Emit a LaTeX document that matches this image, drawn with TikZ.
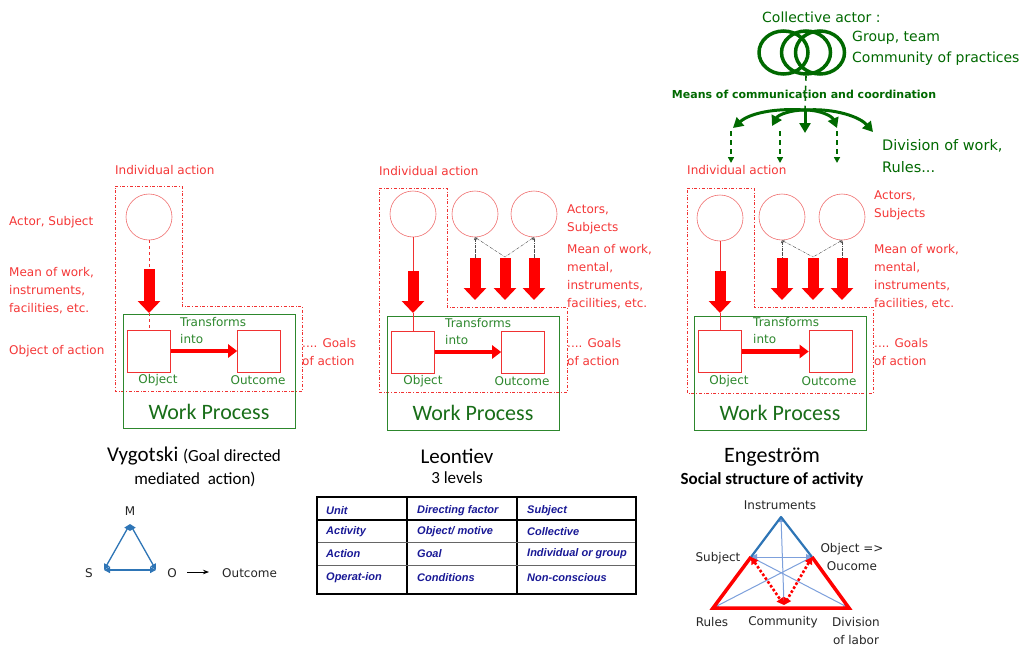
\documentclass[tikz,border=0pt]{standalone}
\usepackage{fontspec}
\setmainfont{DejaVu Sans}
\newfontfamily\titlefont{Carlito}
\newfontfamily\tablefont{Liberation Sans}
\usetikzlibrary{arrows.meta,shapes.geometric}
\definecolor{txtred}{RGB}{245,55,55}
\definecolor{circred}{RGB}{240,110,110}
\definecolor{boxred}{RGB}{240,50,50}
\definecolor{wpgreen}{RGB}{45,135,45}
\definecolor{wptxt}{RGB}{25,110,25}
\definecolor{colgreen}{RGB}{0,105,0}
\definecolor{triblue}{RGB}{46,117,182}
\definecolor{thinblue}{RGB}{125,160,220}
\definecolor{tabblue}{RGB}{25,25,150}
\begin{document}
\begin{tikzpicture}[
        x=1pt, y=-1pt,
        actor/.style={draw=circred, circle, minimum size=46pt, inner sep=0pt, semithick},
        objbox/.style={draw=boxred, minimum width=43pt, minimum height=42pt, inner sep=0pt, semithick},
        wpbox/.style={draw=wpgreen, minimum width=172pt, minimum height=114pt, inner sep=0pt},
        actbox/.style={draw=boxred, dash dot, thin},
        lbl/.style={text=txtred, font=\fontsize{12}{18}\selectfont, align=left, inner sep=0pt, anchor=west},
        grtext/.style={text=wpgreen, font=\fontsize{12}{17}\selectfont, align=left, inner sep=0pt},
        wptext/.style={text=wptxt, font=\titlefont\fontsize{22}{24}\selectfont, inner sep=0pt},
        title/.style={font=\titlefont\fontsize{21}{23}\selectfont, inner sep=0pt},
        subtitle/.style={font=\titlefont\fontsize{17}{19}\selectfont, inner sep=0pt},
        bigarrow/.style={draw=red, line width=11pt, -{Triangle[length=12pt, width=22pt]}},
        transarrow/.style={draw=red, line width=4.5pt, -{Triangle[length=9pt, width=13pt]}},
        sublink/.style={draw=boxred, thin},
        dotlink/.style={draw=black!70, densely dashdotted, thin, {Stealth[length=3pt]}-},
        colcirc/.style={draw=colgreen, ellipse, line width=3.5pt, minimum width=49pt, minimum height=43pt, inner sep=0pt},
        colarrow/.style={draw=colgreen, line width=3pt, -{Triangle[length=10pt, width=11pt]}},
        coldash/.style={draw=colgreen, line width=1.6pt, dash pattern=on 5pt off 4pt, -{Triangle[length=6pt, width=6pt]}},
        coltext/.style={text=colgreen, font=\fontsize{14}{21}\selectfont, align=left, inner sep=0pt, anchor=west},
        small/.style={font=\fontsize{12}{18}\selectfont, inner sep=0pt, text=black!85},
        tabtext/.style={text=tabblue, font=\tablefont\bfseries\itshape\fontsize{11}{13}\selectfont, inner sep=0pt, anchor=west},
        triedge/.style={draw=triblue, line width=1.3pt, {Triangle[length=6pt, width=6pt]}-{Triangle[length=6pt, width=6pt]}},
        thinedge/.style={draw=thinblue, line width=1pt, -{Triangle[length=6pt, width=5pt]}},
    ]
    \useasboundingbox[fill=white] (0,0) rectangle (1027,648);

    % Vygotski
    \node[lbl](vInd) at (115,170){Individual action};
    \draw[actbox] (115,186) -| (182,306) -| (302,391) -| cycle;
    \node[actor](vSubj) at (149,217){};
    \node[wpbox](vWP) at (209,371.5){};
    \node[objbox](vObj) at (149,351){};
    \node[objbox](vOut) at (259,351){};
    \coordinate (vA1) at (149,269);
    \coordinate (vA2) at (149,313);
    \draw[sublink, dashed] (vSubj) -- (vA1);
    \draw[bigarrow] (vA1) -- (vA2);
    \draw[sublink, dashed] (vA2) -- (vObj);
    \draw[transarrow] (vObj) -- (vOut);
    \node[lbl](vActor) at (9,222){Actor, Subject};
    \node[lbl](vMean) at (9,290.5){Mean of work,\\instruments,\\facilities, etc.};
    \node[lbl](vObjAct) at (9,351){Object of action};
    \node[lbl](vGoal) at (302,352){.... Goals\\of action};
    \node[grtext, anchor=west](vTrans) at (180,330.5){Transforms\\into};
    \node[grtext](vObjL) at (158,380){Object};
    \node[grtext](vOutL) at (258,380){Outcome};
    \node[wptext](vWPt) at (209,412){Work Process};

    % Leontiev
    \node[lbl](lInd) at (379,171){Individual action};
    \draw[actbox] (379,188) -| (447,307) -| (567,392) -| cycle;
    \node[actor](lSubj) at (413,214){};
    \node[actor](lSubA) at (475,214){};
    \node[actor](lSubB) at (534,214){};
    \node[wpbox](lWP) at (473,373.5){};
    \node[objbox](lObj) at (413,352){};
    \node[objbox](lOut) at (523,352){};
    \coordinate (lA1) at (413,271);
    \coordinate (lA2) at (413,313);
    \draw[sublink] (lSubj) -- (lA1);
    \draw[bigarrow] (lA1) -- (lA2);
    \draw[sublink] (lA2) -- (lObj);
    \draw[transarrow] (lObj) -- (lOut);
    \coordinate (lJ) at (505,257);
    \foreach \x [count=\i] in {475,505,534}{
        \coordinate (lT\i) at (\x,258);
        \coordinate (lB\i) at (\x,300);
        \draw[bigarrow] (lT\i) -- (lB\i);
    }
    \draw[dotlink] (lSubA.south) -- (lT1);
    \draw[dotlink] (lSubB.south) -- (lT3);
    \draw[dotlink] (lSubA.south) -- (lJ);
    \draw[dotlink] (lSubB.south) -- (lJ);
    \node[lbl](lActors) at (567,219.5){Actors,\\Subjects};
    \node[lbl](lMean) at (567,277){Mean of work,\\mental,\\instruments,\\facilities, etc.};
    \node[lbl](lGoal) at (567,352){.... Goals\\of action};
    \node[grtext, anchor=west](lTrans) at (445,331.5){Transforms\\into};
    \node[grtext](lObjL) at (423,381){Object};
    \node[grtext](lOutL) at (522,381){Outcome};
    \node[wptext](lWPt) at (473,413){Work Process};

    % Engestroem
    \node[lbl](eInd) at (687,170){Individual action};
    \draw[actbox] (687,188) -| (754,307) -| (873,393) -| cycle;
    \node[actor](eSubj) at (720,218){};
    \node[actor](eSubA) at (782,217){};
    \node[actor](eSubB) at (842,217){};
    \node[wpbox](eWP) at (780,373){};
    \node[objbox](eObj) at (720,351.5){};
    \node[objbox](eOut) at (830.5,351.5){};
    \coordinate (eA1) at (720,271);
    \coordinate (eA2) at (720,313);
    \draw[sublink] (eSubj) -- (eA1);
    \draw[bigarrow] (eA1) -- (eA2);
    \draw[sublink] (eA2) -- (eObj);
    \draw[transarrow] (eObj) -- (eOut);
    \coordinate (eJ) at (813,257);
    \foreach \x [count=\i] in {782,813,842}{
        \coordinate (eT\i) at (\x,258);
        \coordinate (eB\i) at (\x,300);
        \draw[bigarrow] (eT\i) -- (eB\i);
    }
    \draw[dotlink] (eSubA.south) -- (eT1);
    \draw[dotlink] (eSubB.south) -- (eT3);
    \draw[dotlink] (eSubA.south) -- (eJ);
    \draw[dotlink] (eSubB.south) -- (eJ);
    \node[lbl](eActors) at (874,205.5){Actors,\\Subjects};
    \node[lbl](eMean) at (874,277){Mean of work,\\mental,\\instruments,\\facilities, etc.};
    \node[lbl](eGoal) at (874,352){.... Goals\\of action};
    \node[grtext, anchor=west](eTrans) at (753,331){Transforms\\into};
    \node[grtext](eObjL) at (729,381){Object};
    \node[grtext](eOutL) at (829,381){Outcome};
    \node[wptext](eWPt) at (780,413){Work Process};

    % collective actor
    \node[coltext](cTitle) at (762,17){Collective actor :};
    \node[colcirc](cC3) at (820,52.5){};
    \node[colcirc](cC2) at (806,52.5){};
    \node[colcirc](cC1) at (783.5,52.5){};
    \node[coltext](cGroup) at (852,48.5){Group, team\\Community of practices};
    \coordinate (hub) at (805,110);
    \draw[draw=colgreen, line width=1.6pt, dash pattern=on 5pt off 5pt] (cC2.south) -- (hub);
    \node[text=colgreen, font=\bfseries\fontsize{11}{13}\selectfont, inner sep=0pt](cMeans) at (804,94){Means of communication and coordination};
    \coordinate (gL1) at (733,128);
    \coordinate (gL2) at (772,126);
    \coordinate (gM) at (805,133);
    \coordinate (gR2) at (837,128);
    \coordinate (gR1) at (873,132);
    \draw[colarrow] (hub) .. controls (775,108) and (750,113) .. (gL1);
    \draw[colarrow] (hub) .. controls (790,110) and (778,115) .. (gL2);
    \draw[colarrow] (hub) -- (gM);
    \draw[colarrow] (hub) .. controls (820,110) and (832,116) .. (gR2);
    \draw[colarrow] (hub) .. controls (835,108) and (860,117) .. (gR1);
    \foreach \x [count=\i] in {731,780,837}{
        \coordinate (gD\i) at (\x,131);
        \coordinate (gE\i) at (\x,163);
        \draw[coldash] (gD\i) -- (gE\i);
    }
    \node[coltext, font=\fontsize{14.5}{22}\selectfont](cDiv) at (882,156){Division of work,\\Rules...};

    % bottom: Vygotski
    \node[title](vTitle) at (194,456){Vygotski {\fontsize{17}{19}\selectfont(Goal directed}};
    \node[subtitle](vTitle2) at (195,479){mediated~ action)};
    \node[small](vM) at (130,511){M};
    \node[small](vS) at (89,573){S};
    \node[small](vO) at (172,573){O};
    \node[small, anchor=west](vOutc) at (222,573){Outcome};
    \coordinate (tM) at (130,524);
    \coordinate (tS) at (104,570);
    \coordinate (tO) at (156,570);
    \draw[triedge] (tM) -- (tS);
    \draw[triedge] (tS) -- (tO);
    \draw[triedge] (tO) -- (tM);
    \draw[-{Stealth[length=6pt]}, thick] (vO) ++(15,-1) coordinate (vOa) -- ++(22,0) coordinate (vOb);

    % bottom: Leontiev
    \node[title](lTitle) at (457,456){Leontiev};
    \node[subtitle](lTitle2) at (457,478){3 levels};
    \draw[line width=2pt] (407,497) -- (407,594) (517,497) -- (517,594);
    \draw[line width=2pt] (317,520) -- (636,520);
    \draw[black!60] (317,542) -- (636,542) (317,565) -- (636,565);
    \draw[line width=2.5pt] (317,497) rectangle (636,594);
    \foreach \y/\a/\b/\c [count=\i] in {511/Unit/Directing factor/Subject,
            532/Activity/{Object/ motive}/Collective,
            554/Action/Goal/Individual or group,
            578/Operat-ion/Conditions/Non-conscious}{
        \node[tabtext](tabA\i) at (326,\y){\a};
        \node[tabtext](tabB\i) at (417,\y){\b};
        \node[tabtext](tabC\i) at (527,\y){\c};
    }

    % bottom: Engestroem
    \node[title, font=\titlefont\fontsize{22}{24}\selectfont](eTitle) at (772,457){Engeström};
    \node[subtitle, font=\titlefont\bfseries\fontsize{17}{19}\selectfont](eTitle2) at (772,480){Social structure of activity};
    \coordinate (eTop) at (781,517);
    \coordinate (eSub) at (751,557);
    \coordinate (eObt) at (812,557);
    \coordinate (eRul) at (713,608);
    \coordinate (eDiv) at (849,608);
    \coordinate (eCom) at (784,605);
    \draw[thinedge, {Triangle[length=5pt, width=5pt]}-{Triangle[length=6pt, width=5pt]}] (eTop) -- (eCom);
    \draw[thinedge, {Triangle[length=6pt, width=6pt]}-{Triangle[length=6pt, width=6pt]}] (eSub) -- (eObt);
    \draw[thinedge] (eSub) -- (eDiv);
    \draw[thinedge] (eObt) -- (eRul);
    \draw[draw=red, line width=2.6pt, dotted, {Triangle[length=7pt, width=8pt]}-{Triangle[length=7pt, width=8pt]}] (eSub) -- (eCom);
    \draw[draw=red, line width=2.6pt, dotted, {Triangle[length=7pt, width=8pt]}-{Triangle[length=7pt, width=8pt]}] (eObt) -- (eCom);
    \draw[draw=triblue, line width=2.2pt, line join=round] (eSub) -- (eTop) -- (eObt);
    \draw[draw=red, line width=3.5pt, line join=miter] (eSub) -- (eRul) -- (eDiv) -- (eObt);
    \node[small](eInstr) at (780,505){Instruments};
    \node[small](eSubjL) at (718,558){Subject};
    \node[small, align=center](eObjL2) at (852,557){Object =>\\Oucome};
    \node[small](eRulL) at (712,622){Rules};
    \node[small](eComL) at (783,622){Community};
    \node[small, align=center](eDivL) at (856,631){Division\\of labor};
\end{tikzpicture}
\end{document}
